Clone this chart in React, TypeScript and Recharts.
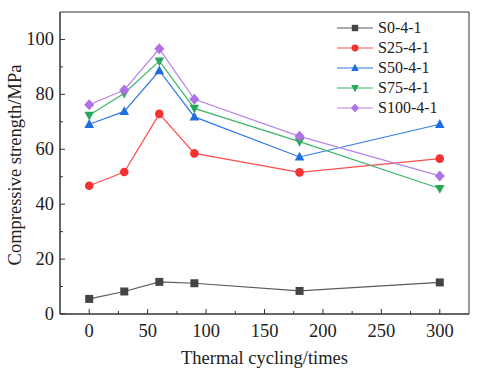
import React from 'react';
import { LineChart, Line, XAxis, YAxis, ReferenceArea } from 'recharts';

const cycles = [0, 30, 60, 90, 180, 300];
const s0 = [5.5, 8.2, 11.7, 11.2, 8.4, 11.5];
const s25 = [46.7, 51.7, 72.9, 58.5, 51.6, 56.6];
const s50 = [69.1, 73.8, 88.6, 71.8, 57.2, 69.1];
const s75 = [72.4, 80.4, 92.1, 74.9, 62.8, 45.7];
const s100 = [76.2, 81.6, 96.6, 78.2, 64.7, 50.3];
const seriesNames = ['S0-4-1', 'S25-4-1', 'S50-4-1', 'S75-4-1', 'S100-4-1'];
const xTicks = [0, 25, 50, 75, 100, 125, 150, 175, 200, 225, 250, 275, 300];
const yTicks = [0, 10, 20, 30, 40, 50, 60, 70, 80, 90, 100];

const data = cycles.map((c, i) => ({ c, s0: s0[i], s25: s25[i], s50: s50[i], s75: s75[i], s100: s100[i] }));

const FONT = '"Liberation Serif", "Times New Roman", serif';

const series = [
  { key: 's0', name: seriesNames[0], line: '#5a5a5a', fill: '#444444', shape: 'square' },
  { key: 's25', name: seriesNames[1], line: '#ff4d4d', fill: '#f03232', shape: 'circle' },
  { key: 's50', name: seriesNames[2], line: '#2f7be6', fill: '#1e6ee0', shape: 'up' },
  { key: 's75', name: seriesNames[3], line: '#3db56a', fill: '#2aa85a', shape: 'down' },
  { key: 's100', name: seriesNames[4], line: '#b784e8', fill: '#b070e6', shape: 'diamond' },
];

function Marker({ cx, cy, shape, fill, s = 1 }: any) {
  if (cx == null || cy == null) return null;
  switch (shape) {
    case 'square':
      return <rect x={cx - 4 * s} y={cy - 4 * s} width={8 * s} height={8 * s} fill={fill} />;
    case 'circle':
      return <circle cx={cx} cy={cy} r={4.3 * s} fill={fill} />;
    case 'up':
      return <polygon points={`${cx},${cy - 5.2 * s} ${cx - 4.8 * s},${cy + 3.6 * s} ${cx + 4.8 * s},${cy + 3.6 * s}`} fill={fill} />;
    case 'down':
      return <polygon points={`${cx},${cy + 5.2 * s} ${cx - 4.8 * s},${cy - 3.6 * s} ${cx + 4.8 * s},${cy - 3.6 * s}`} fill={fill} />;
    case 'diamond':
      return <polygon points={`${cx},${cy - 5.5 * s} ${cx + 5 * s},${cy} ${cx},${cy + 5.5 * s} ${cx - 5 * s},${cy}`} fill={fill} />;
    default:
      return null;
  }
}

const XTick = (props: any) => {
  const { x, y, payload } = props;
  const major = payload.value % 50 === 0;
  return (
    <g>
      <line x1={x} x2={x} y1={y} y2={y - (major ? 5 : 3)} stroke="#333" strokeWidth={1} />
      {major && (
        <text x={x} y={y + 23} textAnchor="middle" style={{ fontFamily: FONT }} fontSize={18.5} fill="#222">
          {payload.value}
        </text>
      )}
    </g>
  );
};

const YTick = (props: any) => {
  const { x, y, payload } = props;
  const major = payload.value % 20 === 0;
  return (
    <g>
      <line x1={x} x2={x + (major ? 5 : 3)} y1={y} y2={y} stroke="#333" strokeWidth={1} />
      {major && (
        <text x={x - 6} y={y + 6} textAnchor="end" style={{ fontFamily: FONT }} fontSize={18.5} fill="#222">
          {payload.value}
        </text>
      )}
    </g>
  );
};

const LegendBox = () => (
  <div style={{ position: 'absolute', left: 337, top: 18, width: 130, fontFamily: FONT, fontSize: 16, color: '#222' }}>
    {series.map((s) => (
      <div key={s.key} style={{ display: 'flex', alignItems: 'center', height: 20 }}>
        <svg width={36} height={20} style={{ display: 'block' }}>
          <line x1={0} x2={36} y1={10} y2={10} stroke={s.line} strokeWidth={1.2} />
          <Marker cx={18} cy={10} shape={s.shape} fill={s.fill} s={0.8} />
        </svg>
        <span style={{ marginLeft: 5, lineHeight: '20px' }}>{s.name}</span>
      </div>
    ))}
  </div>
);

export default function App() {
  return (
    <div style={{ position: 'absolute', left: 0, top: 0, width: 480, height: 379, background: '#fff' }}>
      <LineChart width={480} height={379} data={data} margin={{ top: 12, right: 11, left: 0, bottom: 0 }}>
        <XAxis
          dataKey="c"
          type="number"
          domain={[-25, 325]}
          ticks={xTicks}
          interval={0}
          tickSize={0}
          tickMargin={0}
          tickLine={false}
          height={65}
          axisLine={{ stroke: '#333', strokeWidth: 1 }}
          tick={<XTick />}
          label={{
            content: ({ viewBox }: any) => (
              <text x={viewBox.x + viewBox.width / 2} y={viewBox.y + 50} textAnchor="middle" style={{ fontFamily: FONT }} fontSize={18.5} fill="#222">
                Thermal cycling/times
              </text>
            ),
          }}
        />
        <YAxis
          type="number"
          domain={[0, 110]}
          ticks={yTicks}
          interval={0}
          tickSize={0}
          tickMargin={0}
          tickLine={false}
          width={60}
          axisLine={{ stroke: '#333', strokeWidth: 1 }}
          tick={<YTick />}
          label={{
            content: ({ viewBox }: any) => {
              const cx = 15;
              const cy = viewBox.y + viewBox.height / 2 + 2;
              return (
                <text x={cx} y={cy} transform={`rotate(-90 ${cx} ${cy})`} textAnchor="middle" dominantBaseline="central" style={{ fontFamily: FONT }} fontSize={18.5} fill="#222">
                  Compressive strength/MPa
                </text>
              );
            },
          }}
        />
        <ReferenceArea x1={-25} x2={325} y1={0} y2={110} fill="none" stroke="#333" strokeWidth={1} ifOverflow="visible" />
        {series.map((s) => (
          <Line
            key={s.key}
            dataKey={s.key}
            name={s.name}
            stroke={s.line}
            strokeWidth={1.2}
            isAnimationActive={false}
            dot={(p: any) => <Marker key={`${s.key}-${p.index}`} cx={p.cx} cy={p.cy} shape={s.shape} fill={s.fill} />}
            activeDot={false}
          />
        ))}
      </LineChart>
      <LegendBox />
    </div>
  );
}
